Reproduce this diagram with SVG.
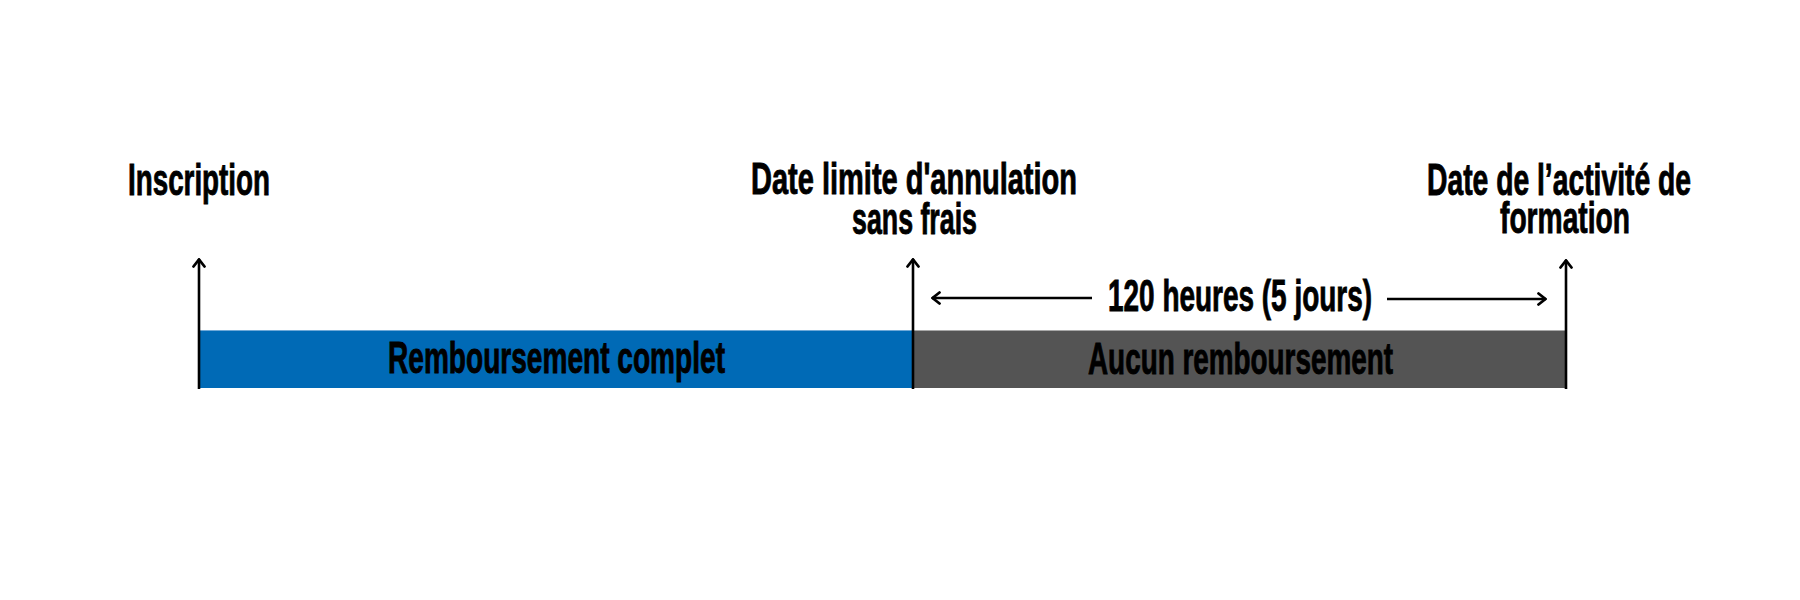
<svg xmlns="http://www.w3.org/2000/svg" width="1800" height="600" viewBox="0 0 1800 600">
  <defs>
    <marker id="chev" viewBox="0 0 12 14" refX="11" refY="7" markerWidth="12" markerHeight="14" markerUnits="userSpaceOnUse" orient="auto">
      <path d="M3.5,1.5 L10.5,7 L3.5,12.5" fill="none" stroke="#000" stroke-width="2.8" stroke-linecap="round" stroke-linejoin="miter"/>
    </marker>
    <style>
      .lbl { font-family: "Liberation Sans Narrow", "Liberation Sans", Arial, sans-serif; font-weight: bold; font-size: 44px; fill: #000; stroke: #000; stroke-width: 0.9; }
      .arr { stroke: #000; stroke-width: 2.6; fill: none; marker-end: url(#chev); }
    </style>
  </defs>
  <rect width="1800" height="600" fill="#fff"/>

  <g id="bar-full">
    <rect x="198" y="330" width="715" height="58" fill="#006AB6"/>
    <rect x="198" y="330" width="715" height="1" fill="#6FA9D8"/>
    <text class="lbl" x="388" y="373" textLength="337" lengthAdjust="spacingAndGlyphs">Remboursement complet</text>
  </g>
  <g id="bar-none">
    <rect x="913" y="330" width="652" height="58" fill="#545454"/>
    <rect x="913" y="330" width="652" height="1" fill="#A8A8A8"/>
    <text class="lbl" x="1088" y="374" textLength="305" lengthAdjust="spacingAndGlyphs">Aucun remboursement</text>
  </g>

  <g id="inscription">
    <text class="lbl" x="128" y="195" textLength="142" lengthAdjust="spacingAndGlyphs">Inscription</text>
  </g>
  <g id="date-limite">
    <text class="lbl" x="751" y="194" textLength="326" lengthAdjust="spacingAndGlyphs">Date limite d'annulation</text>
    <text class="lbl" x="852" y="234" textLength="125" lengthAdjust="spacingAndGlyphs">sans frais</text>
  </g>
  <g id="date-activite">
    <text class="lbl" x="1427" y="195" textLength="264" lengthAdjust="spacingAndGlyphs">Date de l’activité de</text>
    <text class="lbl" x="1500" y="233" textLength="130" lengthAdjust="spacingAndGlyphs">formation</text>
  </g>
  <g id="duree">
    <text class="lbl" x="1108" y="311" textLength="264" lengthAdjust="spacingAndGlyphs">120 heures (5 jours)</text>
  </g>

  <g id="connectors">
    <line class="arr" x1="199" y1="389" x2="199" y2="259"/>
    <line class="arr" x1="913" y1="389" x2="913" y2="259"/>
    <line class="arr" x1="1566" y1="389" x2="1566" y2="260"/>
    <line class="arr" x1="1092" y1="298" x2="932" y2="298"/>
    <line class="arr" x1="1387" y1="299" x2="1546" y2="299"/>
  </g>
</svg>
